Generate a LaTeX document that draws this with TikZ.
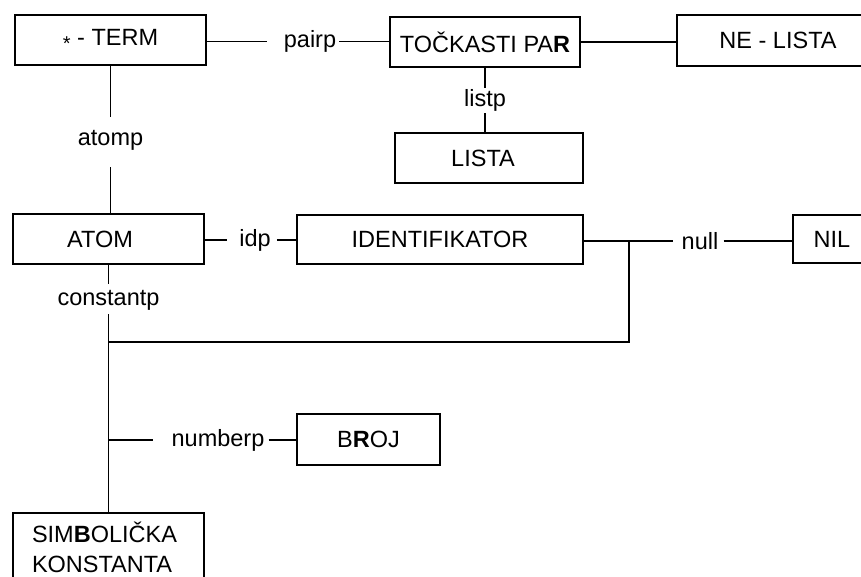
\documentclass[tikz,border=0pt]{standalone}
\usepackage{fontspec}
\setmainfont{Liberation Sans}
\begin{document}
\begin{tikzpicture}[x=1pt,y=-1pt,
  every node/.style={font=\fontsize{23.5}{30}\selectfont, text=black},
  box/.style={draw, line width=1.8pt, rectangle, inner sep=0pt, minimum height=50pt},
  lbl/.style={inner sep=0pt},
  wire/.style={line width=1.7pt}]
\useasboundingbox (0,0) rectangle (861,576);
\clip (0,0) rectangle (861,576);

% type boxes
\node[box, minimum width=191pt] (term) at (110.5,40) {\raisebox{-5pt}{\fontsize{20}{20}\selectfont *} - TERM};
\node[box, minimum width=190pt] (pair) at (485,42) {TOČKASTI PA\textbf{R}};
\node[box, minimum width=202pt, minimum height=51pt] (nelista) at (778,40.5) {NE - LISTA};
\node[box, minimum width=188pt] (lista) at (489,158) {LISTA\hspace*{12pt}};
\node[box, minimum width=191pt] (atom) at (108.5,239) {ATOM\hspace*{17pt}};
\node[box, minimum width=286pt, minimum height=49pt] (ident) at (440,239.5) {IDENTIFIKATOR};
\node[box, minimum width=78pt, minimum height=48pt] (nil) at (832,239) {NIL};
\node[box, minimum width=143pt, minimum height=51pt] (broj) at (368.5,439.5) {B\textbf{R}OJ};
\node[box, anchor=north, align=left, text width=153pt, inner xsep=19pt, inner ysep=9pt] (simb) at (108.5,512) {SIM\textbf{B}OLIČKA\\KONSTANTA};

% predicate labels
\node[lbl] (pairp) at (310,41.5) {pairp};
\node[lbl] (listp) at (485,100) {listp};
\node[lbl] (atomp) at (110.5,140) {atomp};
\node[lbl] (idp) at (255,240) {idp};
\node[lbl] (nullp) at (700,241) {null};
\node[lbl] (constantp) at (108.5,300) {constantp};
\node[lbl] (numberp) at (218,440) {numberp};

% branch points
\coordinate (split) at (629,241);
\coordinate (bus) at (108.5,342);
\coordinate (numtap) at (108.5,440);

% connectors
\draw[wire] (term.east |- pairp) -- ([xshift=-17pt]pairp.west);
\draw[wire] ([xshift=3pt]pairp.east) -- (pair.west |- pairp);
\draw[wire] (pair.east) -- (nelista.west |- pair.east);
\draw[wire] (pair.south) -- ([yshift=1pt]listp.north);
\draw[wire] ([yshift=-2pt]listp.south) -- (listp |- lista.north);
\draw[wire] (term.south) -- ([yshift=13pt]atomp.north);
\draw[wire] ([yshift=-17pt]atomp.south) -- (atomp |- atom.north);
\draw[wire] (atom.east |- idp) -- ([xshift=-12pt]idp.west);
\draw[wire] ([xshift=6pt]idp.east) -- (ident.west |- idp);
\draw[wire] (ident.east |- split) -- (split) -- ([xshift=-9pt]nullp.west);
\draw[wire] ([xshift=5pt]nullp.east) -- (nil.west |- nullp);
\draw[wire] (split) -- (split |- bus) -- (bus);
\draw[wire] (atom.south) -- ([yshift=6pt]constantp.north);
\draw[wire] ([yshift=-4pt]constantp.south) -- (simb.north);
\draw[wire] (numtap) -- ([xshift=-18pt]numberp.west);
\draw[wire] ([xshift=4pt]numberp.east) -- (broj.west |- numberp);
\end{tikzpicture}
\end{document}
